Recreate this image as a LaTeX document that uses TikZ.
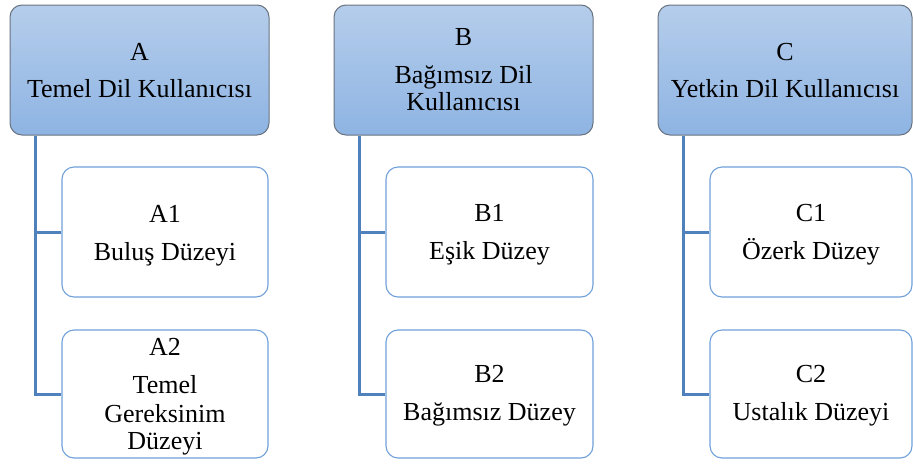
\documentclass[tikz,border=0pt]{standalone}
\usepackage{fontspec}
\setmainfont{Liberation Serif}
\definecolor{hdtop}{RGB}{181,205,235}
\definecolor{hdbot}{RGB}{142,180,227}
\definecolor{hdborder}{RGB}{105,115,128}
\definecolor{chborder}{RGB}{112,160,218}
\definecolor{conncol}{RGB}{79,129,189}
\tikzset{
  header/.style={rounded corners=12pt, draw=hdborder, line width=1pt, top color=hdtop, bottom color=hdbot, minimum height=130pt, inner sep=0pt},
  child/.style={rounded corners=12pt, draw=chborder, line width=1.1pt, fill=white, minimum width=206pt, inner sep=0pt},
  conn/.style={draw=conncol, line width=3pt},
  ln/.style={anchor=base, inner sep=0pt, font=\fontsize{26}{28}\selectfont}
}
\begin{document}
\begin{tikzpicture}[x=1pt,y=-1pt]
\useasboundingbox (0,0) rectangle (913,464);
% headers
\node[header, minimum width=259pt] (A) at (139.5,70) {};
\node[header, minimum width=259pt] (B) at (463.5,70) {};
\node[header, minimum width=254pt] (C) at (785,70) {};
% children
\node[child, minimum height=130pt] (A1) at (165,232) {};
\node[child, minimum height=128pt] (A2) at (165,394) {};
\node[child, minimum height=130pt, minimum width=207pt] (B1) at (489.5,232) {};
\node[child, minimum height=128pt, minimum width=207pt] (B2) at (489.5,394) {};
\node[child, minimum height=130pt, minimum width=202pt] (C1) at (811,232) {};
\node[child, minimum height=128pt, minimum width=202pt] (C2) at (811,394) {};
% texts
\node[ln] (At1) at (139.5,60) {A};
\node[ln] (At2) at (139.5,97) {Temel Dil Kullanıcısı};
\node[ln] (Bt1) at (463.5,45) {B};
\node[ln] (Bt2) at (463.5,83) {Bağımsız Dil};
\node[ln] (Bt3) at (463.5,110) {Kullanıcısı};
\node[ln] (Ct1) at (785,60) {C};
\node[ln] (Ct2) at (785,97) {Yetkin Dil Kullanıcısı};
\node[ln] (A1t1) at (165,222) {A1};
\node[ln] (A1t2) at (165,260) {Buluş Düzeyi};
\node[ln] (A2t1) at (165,355) {A2};
\node[ln] (A2t2) at (165,393) {Temel};
\node[ln] (A2t3) at (165,422) {Gereksinim};
\node[ln] (A2t4) at (165,449) {Düzeyi};
\node[ln] (B1t1) at (489.5,221) {B1};
\node[ln] (B1t2) at (489.5,259) {Eşik Düzey};
\node[ln] (B2t1) at (489.5,382) {B2};
\node[ln] (B2t2) at (489.5,420) {Bağımsız Düzey};
\node[ln] (C1t1) at (811,221) {C1};
\node[ln] (C1t2) at (811,259) {Özerk Düzey};
\node[ln] (C2t1) at (811,382) {C2};
\node[ln] (C2t2) at (811,420) {Ustalık Düzeyi};
% connectors
\draw[conn] ([xshift=26pt]A.south west) |- (A1.west);
\draw[conn] ([xshift=26pt]A.south west) |- (A2.west);
\draw[conn] ([xshift=26pt]B.south west) |- (B1.west);
\draw[conn] ([xshift=26pt]B.south west) |- (B2.west);
\draw[conn] ([xshift=26pt]C.south west) |- (C1.west);
\draw[conn] ([xshift=26pt]C.south west) |- (C2.west);
\end{tikzpicture}
\end{document}
